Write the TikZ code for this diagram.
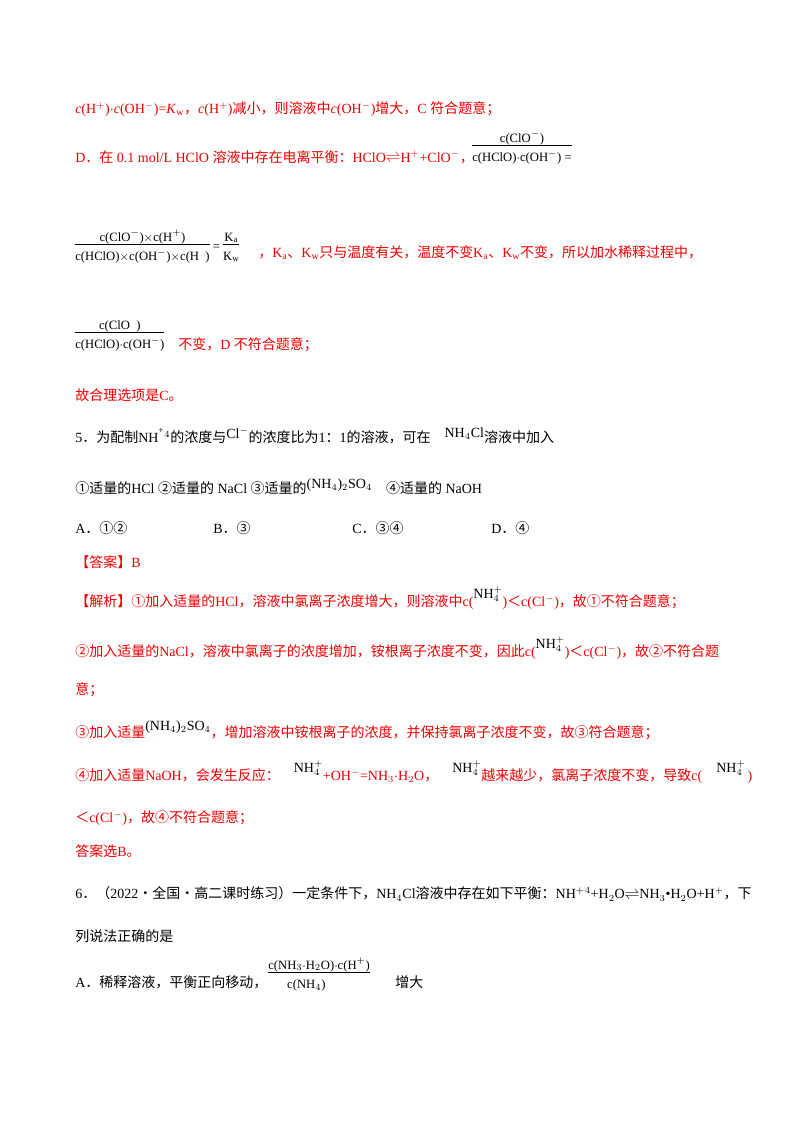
\documentclass[tikz,border=0pt]{standalone}
\usepackage{fontspec}
\setmainfont{Liberation Serif}
\newfontfamily\cjk{Noto Sans CJK SC}
\definecolor{ans}{RGB}{240,0,0}
\newcommand{\z}[1]{{\cjk #1}}
\newcommand{\fr}[2]{$\vcenter{\hbox{\begin{tabular}{@{}c@{}}\rule[-3pt]{0pt}{12pt}\textrm{#1}\\[-1pt]\hline\rule{0pt}{12pt}\textrm{#2}\end{tabular}}}$}
\begin{document}
\begin{tikzpicture}[x=0.75pt,y=-0.75pt,every node/.style={anchor=west,inner sep=0pt,font=\fontsize{10.5}{13}\selectfont},
 red/.style={text=ans}]
\path[fill=white] (0,0) rectangle (800,1132);
\node[red] (l1) at (75,109) {\textit{c}(H$^{+}$)$\cdot$\textit{c}(OH$^{-}$)=\textit{K}$_{\rm w}$\z{，}\textit{c}(H$^{+}$)\z{减小，则溶液中}\textit{c}(OH$^{-}$)\z{增大，}C \z{符合题意；}};
\node[red] (l2) at (75,157) {D\z{．在} 0.1 mol/L HClO \z{溶液中存在电离平衡：}HClO$\rightleftharpoons$H$^{+}$+ClO$^{-}$\z{，}};
\node (f1) at (472,148) {\fontsize{9.5}{11}\selectfont\fr{c(ClO$^{-}$)}{c(HClO)$\cdot$c(OH$^{-}$) =}};
\node (f2) at (75,247) {\fontsize{9.5}{11}\selectfont\fr{c(ClO$^{-}$)$\times$c(H$^{+}$)}{c(HClO)$\times$c(OH$^{-}$)$\times$c(H\ \ )} = \fr{K$_{\rm a}$}{K$_{\rm w}$}};
\node[red] (l3) at (258,253) {\z{，}K$_{\rm a}$\z{、}K$_{\rm w}$\z{只与温度有关，温度不变}K$_{\rm a}$\z{、}K$_{\rm w}$\z{不变，所以加水稀释过程中，}};
\node (f3) at (75,335) {\fontsize{9.5}{11}\selectfont\fr{c(ClO\ \ )}{c(HClO)$\cdot$c(OH$^{-}$)}};
\node[red] (l4) at (178,345) {\z{不变，}D \z{不符合题意；}};
\node[red] (l5) at (75,395) {\z{故合理选项是}C\z{。}};
\node (q5) at (75,437) {5\z{．为配制}NH$^{\raisebox{3pt}{\scriptsize +}}_{\ }$$^{4}$\z{的浓度与}\raisebox{3pt}{Cl$^{-}$}\z{的浓度比为}1\z{：}1\z{的溶液，可在}\quad\raisebox{4pt}{NH$_{4}$Cl}\z{溶液中加入}};
\node (q5b) at (75,487) {\z{①适量的}HCl \z{②适量的} NaCl \z{③适量的}\raisebox{4pt}{(NH$_4$)$_2$SO$_4$}\quad\z{④适量的} NaOH};
\node (oA) at (75,528) {A\z{．①②}};
\node (oB) at (213,528) {B\z{．③}};
\node (oC) at (352,528) {C\z{．③④}};
\node (oD) at (491,528) {D\z{．④}};
\node[red] (an) at (75,562) {\z{【答案】}B};
\node[red] (j1) at (75,598) {\z{【解析】①加入适量的}HCl\z{，溶液中氯离子浓度增大，则溶液中}c(\raisebox{6pt}{\textcolor{black}{NH$^{+}_{4}$}})\z{＜}c(Cl$^{-}$)\z{，故①不符合题意；}};
\node[red] (j2) at (75,648) {\z{②加入适量的}NaCl\z{，溶液中氯离子的浓度增加，铵根离子浓度不变，因此}c(\raisebox{6pt}{\textcolor{black}{NH$^{+}_{4}$}})\z{＜}c(Cl$^{-}$)\z{，故②不符合题}};
\node[red] (j3) at (75,690) {\z{意；}};
\node[red] (j4) at (75,730) {\z{③加入适量}\textcolor{black}{\raisebox{5pt}{(NH$_4$)$_2$SO$_4$}}\z{，增加溶液中铵根离子的浓度，并保持氯离子浓度不变，故③符合题意；}};
\node[red] (j5) at (75,772) {\z{④加入适量}NaOH\z{，会发生反应：}\quad\raisebox{6pt}{\textcolor{black}{NH$^{+}_{4}$}}+OH$^{-}$=NH$_3$$\cdot$H$_2$O\z{，}\quad\raisebox{6pt}{\textcolor{black}{NH$^{+}_{4}$}}\z{越来越少，氯离子浓度不变，导致}c(\quad\raisebox{6pt}{\textcolor{black}{NH$^{+}_{4}$}}\,)};
\node[red] (j6) at (75,818) {\z{＜}c(Cl$^{-}$)\z{，故④不符合题意；}};
\node[red] (j7) at (75,851) {\z{答案选}B\z{。}};
\node (q6) at (75,894) {6\z{．（}2022\z{·全国·高二课时练习）一定条件下，}NH$_4$Cl\z{溶液中存在如下平衡：}NH$^{+}$$^{4}$+H$_2$O$\rightleftharpoons$NH$_3$\textbullet H$_2$O+H$^{+}$\z{，下}};
\node (q6b) at (75,936) {\z{列说法正确的是}};
\node (q6a) at (75,982) {A\z{．稀释溶液，平衡正向移动，}};
\node (f4) at (268,975) {\fontsize{9.5}{11}\selectfont\fr{c(NH$_3\cdot$H$_2$O)$\cdot$c(H$^{+}$)}{c(NH$_4$)\qquad\quad}};
\node (q6c) at (395,982) {\z{增大}};
\end{tikzpicture}
\end{document}
